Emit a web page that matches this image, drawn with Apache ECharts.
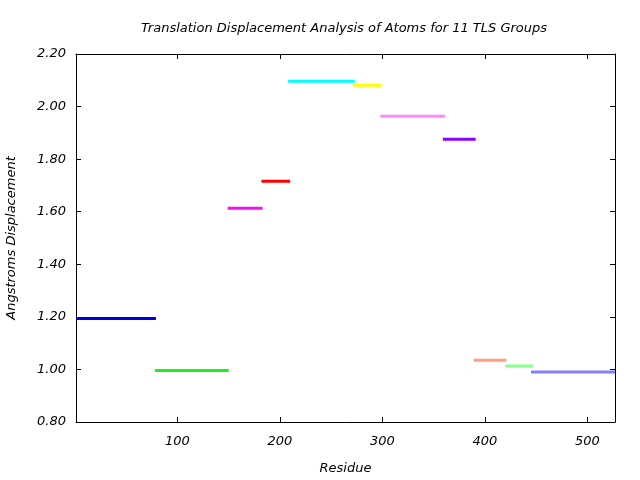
<!DOCTYPE html>
<html>
<head>
<meta charset="utf-8">
<script src="https://cdn.jsdelivr.net/npm/echarts@6/dist/echarts.min.js"></script>
<style>
  html, body { margin: 0; padding: 0; background: #fff; }
  #chart { width: 640px; height: 480px; }
</style>
</head>
<body>
<div id="chart"></div>
<script>
// TLS group residue ranges and their translation displacement
const groupStart = [1, 78, 149, 182, 208, 271, 298, 359, 389, 420, 445];
const groupEnd = [79, 150, 183, 210, 273, 299, 361, 391, 421, 447, 527];
const groupDisp = [1.194, 0.996, 1.613, 1.716, 2.096, 2.081, 1.963, 1.876, 1.035, 1.013, 0.990];
const xTicks = [100, 200, 300, 400, 500];

const colors = ['#0000dd', '#22ee22', '#ee11ee', '#ff0000', '#00ffff', '#ffff00',
  '#ff88ff', '#8800ff', '#ff9f80', '#88ff88', '#8080ff'];

const font = 'DejaVu Sans';
const chart = echarts.init(document.getElementById('chart'));

const series = groupDisp.map((v, i) => ({
  type: 'line',
  name: 'group ' + (i + 1),
  showSymbol: false,
  animation: false,
  lineStyle: { color: colors[i], width: 3 },
  data: [[groupStart[i], v], [groupEnd[i], v]]
}));

const boxAxis = {
  axisLine: { show: true, lineStyle: { color: '#000', width: 1 } },
  axisTick: { show: true, inside: true, length: 5, lineStyle: { color: '#000' } },
  splitLine: { show: false }
};

chart.setOption({
  backgroundColor: '#fff',
  title: {
    text: 'Translation Displacement Analysis of Atoms for 11 TLS Groups',
    left: 339,
    top: 17,
    textAlign: 'center',
    textStyle: { fontFamily: font, fontStyle: 'italic', fontWeight: 'normal', fontSize: 13, color: '#000' }
  },
  grid: { left: 76, right: 25, top: 54, bottom: 58, outerBoundsMode: 'none', containLabel: false },
  xAxis: [{
    type: 'value',
    min: 1,
    max: 527,
    name: 'Residue',
    nameLocation: 'middle',
    nameGap: 40,
    nameTextStyle: { fontFamily: font, fontStyle: 'italic', fontSize: 13, color: '#000' },
    ...boxAxis,
    axisTick: { ...boxAxis.axisTick, customValues: xTicks },
    axisLabel: {
      customValues: xTicks,
      margin: 13,
      fontFamily: font, fontStyle: 'italic', fontSize: 13, color: '#000'
    }
  }, {
    type: 'value',
    position: 'top',
    min: 1,
    max: 527,
    ...boxAxis,
    axisTick: { ...boxAxis.axisTick, customValues: xTicks },
    axisLabel: { show: false }
  }],
  yAxis: [{
    type: 'value',
    min: 0.8,
    max: 2.2,
    interval: 0.2,
    name: 'Angstroms Displacement',
    nameLocation: 'middle',
    nameGap: 58,
    nameTextStyle: { fontFamily: font, fontStyle: 'italic', fontSize: 13, color: '#000' },
    ...boxAxis,
    axisLabel: {
      margin: 10,
      formatter: v => v.toFixed(2),
      fontFamily: font, fontStyle: 'italic', fontSize: 13, color: '#000'
    }
  }, {
    type: 'value',
    position: 'right',
    min: 0.8,
    max: 2.2,
    interval: 0.2,
    ...boxAxis,
    axisLabel: { show: false }
  }],
  series: series
});
</script>
</body>
</html>
